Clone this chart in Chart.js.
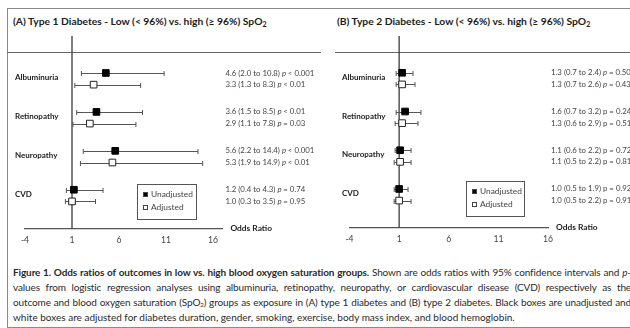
<!DOCTYPE html>
<html>
<head>
<meta charset="utf-8">
<script src="https://cdn.jsdelivr.net/npm/chart.js@4.4.1/dist/chart.umd.min.js"></script>
<style>
  body { margin: 0; width: 630px; height: 328px; overflow: hidden; background: #fff; position: relative; font-family: Lato, 'Open Sans', sans-serif; color: #222; }
  .frame { position: absolute; left: 7px; top: 8px; width: 700px; height: 318px; border: 1px solid #8a8a8a; }
  .rule { position: absolute; top: 52px; height: 0; border-top: 1px solid #666; }
  .title { position: absolute; top: 14px; font-weight: bold; font-size: 10.3px; line-height: 14px; color: #1c1c1c; white-space: nowrap; }
  .title sub { font-size: 7px; vertical-align: -2px; line-height: 0; }
  .panel { position: absolute; top: 0; }
  .caption { position: absolute; left: 13px; top: 265px; font-size: 10px; line-height: 15px; color: #2a2a2a; }
  .caption div { white-space: nowrap; }
  .caption .j { width: 618px; letter-spacing: -0.12px; text-align: justify; text-align-last: justify; white-space: normal; overflow: hidden; height: 15px; }
  .caption sub { font-size: 6px; vertical-align: -1px; line-height: 0; }
</style>
</head>
<body>
<div class="frame"></div>
<div class="rule" style="left:7px;width:314px"></div>
<div class="rule" style="left:335px;width:300px"></div>
<div class="title" style="left:13px">(A) Type 1 Diabetes - Low (&lt; 96%) vs. high (≥ 96%) SpO<sub>2</sub></div>
<div class="title" style="left:337px">(B) Type 2 Diabetes - Low (&lt; 96%) vs. high (≥ 96%) SpO<sub>2</sub></div>

<div class="panel" style="left:0"><canvas id="chartA" width="325" height="260"></canvas></div>
<div class="panel" style="left:325px"><canvas id="chartB" width="305" height="260"></canvas></div>

<div class="caption">
  <div class="j"><b>Figure 1. Odds ratios of outcomes in low vs. high blood oxygen saturation groups.</b> Shown are odds ratios with 95% confidence intervals and <i>p</i>-</div>
  <div class="j">values from logistic regression analyses using albuminuria, retinopathy, neuropathy, or cardiovascular disease (CVD) respectively as the</div>
  <div class="j">outcome and blood oxygen saturation (SpO<sub>2</sub>) groups as exposure in (A) type 1 diabetes and (B) type 2 diabetes. Black boxes are unadjusted and</div>
  <div>white boxes are adjusted for diabetes duration, gender, smoking, exercise, body mass index, and blood hemoglobin.</div>
</div>

<script>
'use strict';

// Outcomes, top to bottom
const outcomes = ['Albuminuria', 'Retinopathy', 'Neuropathy', 'CVD'];
const xTicks = [-4, 1, 6, 11, 16];

// (A) type 1 diabetes
const t1Unadj = [4.6, 3.6, 5.6, 1.2];
const t1UnadjLow = [2.0, 1.5, 2.2, 0.4];
const t1UnadjHigh = [10.8, 8.5, 14.4, 4.3];
const t1UnadjP = ['< 0.001', '< 0.01', '< 0.001', '= 0.74'];
const t1Adj = [3.3, 2.9, 5.3, 1.0];
const t1AdjLow = [1.3, 1.1, 1.9, 0.3];
const t1AdjHigh = [8.3, 7.8, 14.9, 3.5];
const t1AdjP = ['< 0.01', '= 0.03', '< 0.01', '= 0.95'];

// (B) type 2 diabetes
const t2Unadj = [1.3, 1.6, 1.1, 1.0];
const t2UnadjLow = [0.7, 0.7, 0.6, 0.5];
const t2UnadjHigh = [2.4, 3.2, 2.2, 1.9];
const t2UnadjP = ['= 0.50', '= 0.24', '= 0.72', '= 0.92'];
const t2Adj = [1.3, 1.3, 1.1, 1.0];
const t2AdjLow = [0.7, 0.6, 0.5, 0.5];
const t2AdjHigh = [2.6, 2.9, 2.2, 2.2];
const t2AdjP = ['= 0.43', '= 0.51', '= 0.81', '= 0.91'];

const FONT = 'Lato, "Open Sans", sans-serif';
const ADJ_OFFSET = 0.3; // adjusted row sits just below the unadjusted one

function makePoints(est, low, high, p, offset) {
  return est.map((v, i) => ({ x: v, y: i + offset, lo: low[i], hi: high[i], p: p[i] }));
}

// whiskers, reference line, value text, row names and the boxed legend
const forestPlugin = {
  id: 'forest',
  beforeDatasetsDraw(chart) {
    const { ctx, chartArea, scales: { x, y } } = chart;
    ctx.save();
    ctx.strokeStyle = '#3a3a3a';
    ctx.lineWidth = 1.3;
    const x1 = x.getPixelForValue(1);
    ctx.beginPath();
    ctx.moveTo(x1, chartArea.top);
    ctx.lineTo(x1, chartArea.bottom);
    ctx.stroke();

    ctx.strokeStyle = '#555';
    ctx.lineWidth = 1;
    chart.data.datasets.forEach(ds => {
      ds.data.forEach(pt => {
        const py = Math.round(y.getPixelForValue(pt.y)) + 0.5;
        const a = x.getPixelForValue(pt.lo);
        const b = x.getPixelForValue(pt.hi);
        ctx.beginPath();
        ctx.moveTo(a, py); ctx.lineTo(b, py);
        ctx.moveTo(a, py - 2.5); ctx.lineTo(a, py + 2.5);
        ctx.moveTo(b, py - 2.5); ctx.lineTo(b, py + 2.5);
        ctx.stroke();
      });
    });
    ctx.restore();
  },
  afterDatasetsDraw(chart, args, opts) {
    const { ctx, chartArea, scales: { y } } = chart;
    const size = '7.8px ';
    ctx.save();
    ctx.textBaseline = 'middle';

    // estimate (CI) p-value next to each row
    const tx = chartArea.right + 3;
    chart.data.datasets.forEach(ds => {
      ds.data.forEach((pt, i) => {
        const py = y.getPixelForValue(pt.y);
        const head = pt.x.toFixed(1) + ' (' + pt.lo.toFixed(1) + ' to ' + pt.hi.toFixed(1) + ') ';
        ctx.fillStyle = '#444';
        ctx.font = size + FONT;
        ctx.fillText(head, tx, py);
        let w = ctx.measureText(head).width;
        ctx.font = (opts.italicP[i] ? 'italic ' : '') + size + FONT;
        ctx.fillText('p', tx + w, py);
        w += ctx.measureText('p ').width;
        ctx.font = size + FONT;
        ctx.fillText(pt.p, tx + w, py);
      });
    });

    // outcome names
    ctx.font = 'bold 8px ' + FONT;
    ctx.fillStyle = '#222';
    outcomes.forEach((name, i) => {
      ctx.fillText(name, opts.labelX, y.getPixelForValue(i + 0.12));
    });

    ctx.font = 'bold 8.4px ' + FONT;
    ctx.fillText('Odds Ratio', chartArea.right + 8, chartArea.bottom);

    // legend box
    const lb = opts.legendBox;
    ctx.strokeStyle = '#555';
    ctx.lineWidth = 1;
    ctx.strokeRect(lb.left + 0.5, lb.top + 0.5, lb.width, lb.height);
    ctx.font = '8.4px ' + FONT;
    chart.data.datasets.forEach((ds, k) => {
      const ly = lb.top + 10.5 + k * 13;
      ctx.fillStyle = ds.backgroundColor;
      ctx.fillRect(lb.left + 6, ly - 2.5, 5, 5);
      ctx.strokeStyle = '#444';
      ctx.strokeRect(lb.left + 6.5, ly - 2, 4, 4);
      ctx.fillStyle = '#444';
      ctx.fillText(ds.label, lb.left + 14, ly);
    });
    ctx.restore();
  }
};

function makeChart(id, unadj, adj, xMax, padding, labelX, legendBox, italicP) {
  return new Chart(document.getElementById(id), {
    type: 'scatter',
    data: {
      datasets: [
        {
          label: 'Unadjusted',
          data: unadj,
          pointStyle: 'rect',
          pointRadius: 4.7,
          pointHoverRadius: 4.7,
          backgroundColor: '#000',
          borderColor: '#000',
          borderWidth: 1
        },
        {
          label: 'Adjusted',
          data: adj,
          pointStyle: 'rect',
          pointRadius: 4.7,
          pointHoverRadius: 4.7,
          backgroundColor: '#fff',
          borderColor: '#222',
          borderWidth: 1
        }
      ]
    },
    options: {
      responsive: false,
      animation: false,
      events: [],
      layout: { padding: padding },
      plugins: {
        legend: { display: false },
        tooltip: { enabled: false },
        forest: { labelX: labelX, legendBox: legendBox, italicP: italicP }
      },
      scales: {
        x: {
          type: 'linear',
          min: -4,
          max: xMax,
          afterBuildTicks: scale => { scale.ticks = xTicks.map(v => ({ value: v })); },
          grid: { display: false, drawTicks: false },
          border: { display: true, color: '#555', width: 1.2 },
          ticks: { color: '#444', font: { family: FONT, size: 8.6 }, padding: 6, maxRotation: 0 }
        },
        y: {
          type: 'linear',
          display: false,
          reverse: true,
          min: -0.95,
          max: 4
        }
      }
    },
    plugins: [forestPlugin]
  });
}

makeChart('chartA',
  makePoints(t1Unadj, t1UnadjLow, t1UnadjHigh, t1UnadjP, 0),
  makePoints(t1Adj, t1AdjLow, t1AdjHigh, t1AdjP, ADJ_OFFSET),
  17, { left: 25, right: 102.6, top: 36, bottom: 9 }, 15,
  { left: 137, top: 184, width: 59, height: 35 },
  [true, true, true, true]);

makeChart('chartB',
  makePoints(t2Unadj, t2UnadjLow, t2UnadjHigh, t2UnadjP, 0),
  makePoints(t2Adj, t2AdjLow, t2AdjHigh, t2AdjP, ADJ_OFFSET),
  16, { left: 24.5, right: 82, top: 36, bottom: 10 }, 17,
  { left: 141, top: 181, width: 58, height: 35 },
  [true, false, false, false]);
</script>
</body>
</html>
